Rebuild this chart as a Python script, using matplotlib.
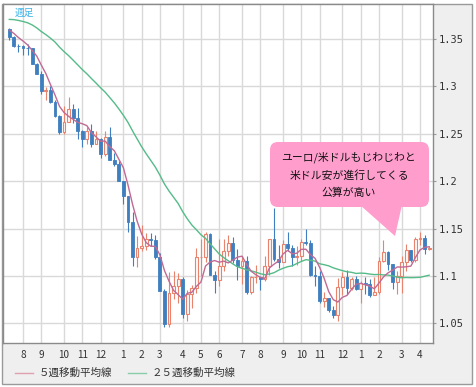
import numpy as np
import pandas as pd
import matplotlib
matplotlib.use('Agg')
import matplotlib.pyplot as plt
from matplotlib.patches import Rectangle, FancyBboxPatch, Polygon
from matplotlib.lines import Line2D

plt.rcParams['font.family'] = ['Noto Sans CJK JP', 'DejaVu Sans']

# weekly closes before the first drawn candle (only used for the moving averages)
pre_close = [1.3485, 1.3635, 1.3690, 1.3740, 1.3800, 1.3910, 1.3910, 1.3780,
             1.3750, 1.3700, 1.3885, 1.3810, 1.3830, 1.3870, 1.3755, 1.3695,
             1.3630, 1.3635, 1.3645, 1.3540, 1.3600, 1.3645, 1.3590, 1.3605]

# weekly OHLC, EUR/USD, 2014/7 - 2016/4
opens = [1.3605, 1.3525, 1.3430, 1.3425, 1.3410, 1.3400, 1.3240, 1.3130, 1.2950, 1.2960,
         1.2830, 1.2685, 1.2520, 1.2625, 1.2760, 1.2670, 1.2525, 1.2450, 1.2525, 1.2390,
         1.2450, 1.2290, 1.2465, 1.2225, 1.2180, 1.2000, 1.1840, 1.1565, 1.1205, 1.1290,
         1.1315, 1.1385, 1.1375, 1.1195, 1.0840, 1.0495, 1.0820, 1.0890, 1.0970, 1.0600,
         1.0805, 1.0875, 1.1200, 1.1200, 1.1445, 1.1015, 1.0955, 1.1110, 1.1260, 1.1350,
         1.1165, 1.1110, 1.1160, 1.0830, 1.0985, 1.0985, 1.0965, 1.1105, 1.1385, 1.1180,
         1.1150, 1.1340, 1.1300, 1.1200, 1.1210, 1.1355, 1.1345, 1.1015, 1.1005, 1.0740,
         1.0770, 1.0645, 1.0590, 1.0880, 1.0990, 1.0870, 1.0965, 1.0860, 1.0925, 1.0915,
         1.0795, 1.0830, 1.1155, 1.1255, 1.1130, 1.0935, 1.1000, 1.1150, 1.1270, 1.1165,
         1.1390, 1.1400, 1.1285]
highs = [1.3620, 1.3535, 1.3445, 1.3440, 1.3445, 1.3410, 1.3245, 1.3160, 1.2995, 1.3000,
         1.2860, 1.2700, 1.2790, 1.2885, 1.2810, 1.2770, 1.2535, 1.2575, 1.2600, 1.2530,
         1.2455, 1.2530, 1.2570, 1.2295, 1.2215, 1.2000, 1.1845, 1.1680, 1.1420, 1.1535,
         1.1450, 1.1450, 1.1430, 1.1245, 1.0860, 1.1040, 1.1050, 1.1035, 1.0985, 1.0850,
         1.0900, 1.1290, 1.1390, 1.1465, 1.1450, 1.1055, 1.1385, 1.1385, 1.1435, 1.1410,
         1.1280, 1.1215, 1.1215, 1.0995, 1.1115, 1.1000, 1.1215, 1.1390, 1.1715, 1.1330,
         1.1375, 1.1460, 1.1330, 1.1320, 1.1390, 1.1495, 1.1380, 1.1105, 1.1055, 1.0830,
         1.0770, 1.0680, 1.0980, 1.1045, 1.1060, 1.0985, 1.0995, 1.0945, 1.0990, 1.0970,
         1.0985, 1.1200, 1.1375, 1.1265, 1.1130, 1.1050, 1.1215, 1.1340, 1.1275, 1.1410,
         1.1465, 1.1435, 1.1320]
lows = [1.3490, 1.3420, 1.3365, 1.3330, 1.3335, 1.3235, 1.3135, 1.2920, 1.2860, 1.2825,
        1.2680, 1.2500, 1.2500, 1.2620, 1.2615, 1.2440, 1.2360, 1.2395, 1.2360, 1.2390,
        1.2245, 1.2270, 1.2220, 1.2165, 1.2000, 1.1755, 1.1460, 1.1100, 1.1095, 1.1260,
        1.1270, 1.1315, 1.1175, 1.0840, 1.0460, 1.0460, 1.0760, 1.0715, 1.0560, 1.0520,
        1.0665, 1.0820, 1.1000, 1.1145, 1.1015, 1.0820, 1.0890, 1.1050, 1.1215, 1.1135,
        1.0955, 1.0915, 1.0810, 1.0805, 1.0925, 1.0850, 1.0950, 1.1015, 1.1155, 1.1085,
        1.1145, 1.1260, 1.1105, 1.1120, 1.1160, 1.1325, 1.0995, 1.0895, 1.0710, 1.0675,
        1.0615, 1.0560, 1.0525, 1.0795, 1.0805, 1.0850, 1.0855, 1.0710, 1.0805, 1.0775,
        1.0805, 1.0810, 1.1150, 1.1065, 1.0860, 1.0810, 1.0820, 1.1055, 1.1145, 1.1145,
        1.1325, 1.1235, 1.1270]
closes = [1.3525, 1.3430, 1.3425, 1.3410, 1.3400, 1.3240, 1.3130, 1.2950, 1.2960, 1.2830,
          1.2685, 1.2520, 1.2625, 1.2760, 1.2670, 1.2525, 1.2450, 1.2525, 1.2390, 1.2450,
          1.2290, 1.2465, 1.2225, 1.2180, 1.2000, 1.1840, 1.1565, 1.1205, 1.1290, 1.1315,
          1.1385, 1.1375, 1.1195, 1.0840, 1.0495, 1.0820, 1.0890, 1.0970, 1.0600, 1.0805,
          1.0875, 1.1200, 1.1200, 1.1445, 1.1015, 1.0955, 1.1110, 1.1260, 1.1350, 1.1165,
          1.1110, 1.1160, 1.0830, 1.0985, 1.0985, 1.0965, 1.1105, 1.1385, 1.1180, 1.1150,
          1.1340, 1.1300, 1.1200, 1.1210, 1.1355, 1.1345, 1.1015, 1.1005, 1.0740, 1.0770,
          1.0645, 1.0590, 1.0880, 1.0990, 1.0870, 1.0965, 1.0860, 1.0925, 1.0915, 1.0795,
          1.0830, 1.1155, 1.1255, 1.1130, 1.0935, 1.1000, 1.1150, 1.1270, 1.1165, 1.1390,
          1.1400, 1.1285, 1.1300]

month_pos = [3, 7, 12, 16, 20, 25, 29, 33, 38, 42, 46, 51, 55, 60, 64, 68, 73, 77, 81, 86, 90]
month_labels = ['8', '9', '10', '11', '12', '1', '2', '3', '4', '5', '6', '7',
                '8', '9', '10', '11', '12', '1', '2', '3', '4']
y_ticks = [1.05, 1.1, 1.15, 1.2, 1.25, 1.3, 1.35]
y_labels = ['1.05', '1.1', '1.15', '1.2', '1.25', '1.3', '1.35']
note_lines = ['ユーロ/米ドルもじわじわと', '米ドル安が進行してくる', '公算が高い']

UP = '#e8836e'
DOWN = '#3f7fbf'
MA5_C = '#c06a95'
MA25_C = '#55bb88'
GRID = '#d9d9d9'

o = np.array(opens); h = np.array(highs); l = np.array(lows); c = np.array(closes)
n = len(c)
x = np.arange(n)
allc = pd.Series(pre_close + closes)
ma5 = allc.rolling(5).mean().values[-n:]
ma25 = allc.rolling(25).mean().values[-n:]

fig = plt.figure(figsize=(4.77, 3.87), dpi=100)
W, H = 477, 387

# background panel (pixel coords)
bg = fig.add_axes([0, 0, 1, 1])
bg.set_xlim(0, W); bg.set_ylim(H, 0); bg.axis('off')
bg.add_patch(Rectangle((2, 4), 470, 380, fc='#efefef', ec='#9a9a9a', lw=1))

ax = fig.add_axes([3 / W, (H - 343) / H, 430 / W, 339 / H], zorder=1)
ax.set_facecolor('white')
ax.set_xlim(-1.38, 92.85)
ax.set_ylim(1.0293, 1.3869)

up = c >= o
wcol = np.where(up, UP, DOWN)
ax.vlines(x, l, h, colors=wcol, lw=0.8, zorder=2)
body = np.where(np.abs(c - o) < 0.0004, 0.0004, c - o)
ax.bar(x[up], body[up], bottom=o[up], width=0.62, facecolor='#fffaf8',
       edgecolor=UP, lw=0.8, zorder=3)
ax.bar(x[~up], body[~up], bottom=o[~up], width=0.62, facecolor=DOWN,
       edgecolor=DOWN, lw=0.6, zorder=3)
ax.plot(x, ma25, color=MA25_C, lw=1, zorder=4)
ax.plot(x, ma5, color=MA5_C, lw=1, zorder=4)

ax.set_xticks(month_pos)
ax.set_xticklabels(month_labels)
ax.set_yticks(y_ticks)
ax.set_yticklabels(y_labels, family='DejaVu Sans Mono')
ax.yaxis.tick_right()
ax.tick_params(axis='x', length=0, pad=5, labelsize=7.2, colors='#333333')
ax.tick_params(axis='y', length=2, pad=2, labelsize=7.5, colors='#333333')
ax.tick_params(axis='y', color='#9a9a9a')
ax.grid(True, color=GRID, lw=1, zorder=0)
ax.set_axisbelow(True)
for s in ax.spines.values():
    s.set_color('#8a8a8a')
    s.set_linewidth(1)

ax.text(0.028, 0.974, '週足', transform=ax.transAxes, ha='left', va='center',
        fontsize=7, color='#3bb4e8')

# overlay for callout and legend
ov = fig.add_axes([0, 0, 1, 1], zorder=2)
ov.set_xlim(0, W); ov.set_ylim(H, 0); ov.axis('off')
ov.patch.set_alpha(0)
PINK = '#ff9dcd'
ov.add_patch(FancyBboxPatch((278, 150), 143, 49, boxstyle='round,pad=8',
                            fc=PINK, ec='none'))
ov.add_patch(Polygon([(360, 205), (402, 205), (395, 236)], closed=True,
                     fc=PINK, ec='none'))
for k, t in enumerate(note_lines):
    ov.text(349, 157 + 18 * k, t, ha='center', va='center', fontsize=7.8,
            color='#111111')

ov.add_line(Line2D([15, 33], [373, 373], color='#e0a0b0', lw=1))
ov.text(39, 373, '５週移動平均線', ha='left', va='center', fontsize=7.6, color='#333333')
ov.add_line(Line2D([128, 146], [373, 373], color='#88ccaa', lw=1))
ov.text(152, 373, '２５週移動平均線', ha='left', va='center', fontsize=7.6, color='#333333')

fig.savefig('out.png', dpi=100)
